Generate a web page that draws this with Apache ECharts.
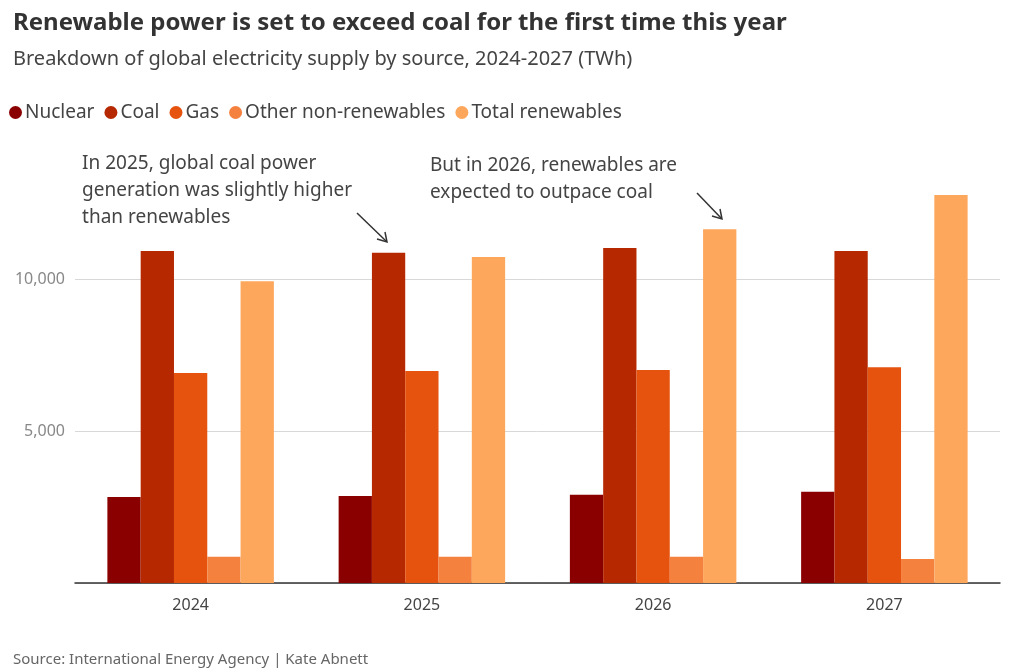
<!DOCTYPE html>
<html>
<head>
<meta charset="utf-8">
<script src="https://cdn.jsdelivr.net/npm/echarts@6/dist/echarts.min.js"></script>
<style>html,body{margin:0;padding:0;background:#fff;}#chart{width:1024px;height:671px;}</style>
</head>
<body>
<div id="chart"></div>
<script>
// 数据
var years = ['2024', '2025', '2026', '2027'];
var nuclear = [2830, 2860, 2900, 3000];
var coal = [10920, 10860, 11020, 10920];
var gas = [6910, 6970, 7010, 7100];
var otherNonRenew = [860, 860, 860, 790];
var renewables = [9930, 10720, 11640, 12760];
var yTicks = [5000, 10000];

var FONT = 'Noto Sans';
var chart = echarts.init(document.getElementById('chart'));

function bar(name, data, color) {
    return { name: name, type: 'bar', data: data, itemStyle: { color: color }, barGap: '0%', barCategoryGap: '28%' };
}

var option = {
    backgroundColor: '#fff',
    textStyle: { fontFamily: FONT },
    title: [
        { text: 'Renewable power is set to exceed coal for the first time this year', left: 8, top: 6,
          textStyle: { fontSize: 24, fontWeight: 'bold', color: '#333', fontFamily: FONT } },
        { text: 'Breakdown of global electricity supply by source, 2024-2027 (TWh)', left: 8, top: 44,
          textStyle: { fontSize: 20, fontWeight: 'normal', color: '#444', fontFamily: FONT } },
        { text: 'Source: International Energy Agency | Kate Abnett', left: 8, top: 647,
          textStyle: { fontSize: 15, fontWeight: 'normal', color: '#666', fontFamily: FONT } }
    ],
    legend: {
        left: 4, top: 98, icon: 'circle', itemWidth: 13, itemHeight: 13, itemGap: 10,
        textStyle: { fontSize: 19, color: '#444', fontFamily: FONT, padding: [0, 0, 0, -2] }
    },
    grid: { left: 75, right: 24, top: 127, bottom: 88 },
    xAxis: {
        type: 'category', data: years,
        axisLine: { lineStyle: { color: '#333', width: 1.5 } },
        axisTick: { show: false },
        axisLabel: { fontSize: 16, color: '#444', margin: 14 }
    },
    yAxis: {
        type: 'value', min: 0, max: 15000, interval: 5000,
        axisLine: { show: false }, axisTick: { show: false },
        axisLabel: {
            fontSize: 16, color: '#888', margin: 10,
            formatter: function (v) { return yTicks.indexOf(v) >= 0 ? v.toLocaleString('en-US') : ''; }
        },
        splitLine: { lineStyle: { color: ['#d8d8d8', '#d8d8d8', '#d8d8d8', 'rgba(0,0,0,0)'] } }
    },
    series: [
        bar('Nuclear', nuclear, '#8a0000'),
        bar('Coal', coal, '#b52800'),
        bar('Gas', gas, '#e5530f'),
        bar('Other non-renewables', otherNonRenew, '#f5813f'),
        bar('Total renewables', renewables, '#fda75d')
    ],
    graphic: [
        { type: 'text', right: 1024 - 352, top: 150, style: { text: 'In 2025, global coal power\ngeneration was slightly higher\nthan renewables', align: 'right', fontSize: 19, lineHeight: 27, fill: '#444', fontFamily: FONT } },
        { type: 'text', left: 430, top: 152, style: { text: 'But in 2026, renewables are\nexpected to outpace coal', fontSize: 19, lineHeight: 27, fill: '#444', fontFamily: FONT } },
        { type: 'line', shape: { x1: 357, y1: 213, x2: 386, y2: 241 }, style: { stroke: '#333', lineWidth: 1.5 } },
        { type: 'polyline', shape: { points: [[377, 239], [387, 242], [385, 232]] }, style: { stroke: '#333', lineWidth: 1.5, fill: null } },
        { type: 'line', shape: { x1: 697, y1: 193, x2: 721, y2: 218 }, style: { stroke: '#333', lineWidth: 1.5 } },
        { type: 'polyline', shape: { points: [[712, 216], [722, 219], [720, 209]] }, style: { stroke: '#333', lineWidth: 1.5, fill: null } }
    ]
};
chart.setOption(option);
</script>
</body>
</html>
